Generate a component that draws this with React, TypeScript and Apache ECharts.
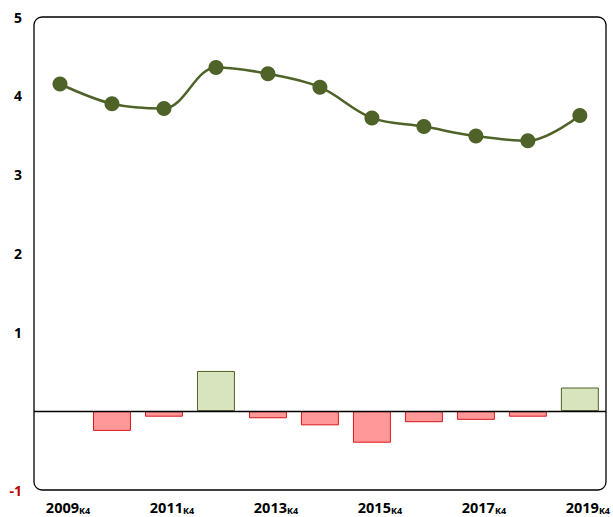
import React, { useEffect, useRef } from "react";
import * as echarts from "echarts";

const categories = ["2009", "2010", "2011", "2012", "2013", "2014", "2015", "2016", "2017", "2018", "2019"];
const lineValues = [4.15, 3.9, 3.84, 4.36, 4.28, 4.11, 3.72, 3.61, 3.49, 3.43, 3.75];
const barValues: (number | null)[] = [null, -0.25, -0.07, 0.51, -0.09, -0.18, -0.4, -0.14, -0.11, -0.07, 0.3];
const yTicks = [-1, 0, 1, 2, 3, 4, 5];

export default function App() {
  const ref = useRef<HTMLDivElement>(null);
  useEffect(() => {
    document.body.style.margin = "0";
    const chart = echarts.init(ref.current!, null, { renderer: "svg" });
    const W = 613, H = 517;
    const gl = 34, gr = 7, gt = 17, gb = 27;
    chart.setOption({
      animation: false,
      grid: { left: gl, right: gr, top: gt, bottom: gb },
      graphic: [
        {
          type: "rect",
          shape: { x: gl, y: gt, width: W - gl - gr, height: H - gt - gb, r: 8 },
          style: { fill: "none", stroke: "#000", lineWidth: 1.3 },
          z: 10,
        },
      ],
      xAxis: {
        type: "category",
        data: categories,
        axisLine: { show: false },
        axisTick: { show: false },
        axisLabel: {
          interval: 1,
          margin: 9,
          formatter: (v: string) => `{a|${v}}{b|K4}`,
          rich: {
            a: { fontFamily: "Open Sans", fontWeight: "bold", fontSize: 14.5, color: "#000" },
            b: { fontFamily: "Open Sans", fontWeight: "bold", fontSize: 9, color: "#000", padding: [7, 0, 0, 0] },
          },
          padding: [0, 0, 0, 16],
        },
      },
      yAxis: {
        type: "value",
        min: yTicks[0],
        max: yTicks[yTicks.length - 1],
        interval: 1,
        axisLine: { show: false },
        axisTick: { show: false },
        splitLine: { show: false },
        axisLabel: {
          margin: 12,
          fontFamily: "Open Sans",
          fontWeight: "bold",
          fontSize: 14,
          formatter: (v: number) => (v === 0 ? "" : String(v)),
          color: (v: any) => (Number(v) < 0 ? "#C00000" : "#000"),
        },
      },
      series: [
        {
          type: "bar",
          data: barValues.map((v) =>
            v === null
              ? null
              : {
                  value: v,
                  itemStyle:
                    v < 0
                      ? { color: "#FF9999", borderColor: "#D9151B", borderWidth: 1 }
                      : { color: "#D7E4BD", borderColor: "#4F6228", borderWidth: 1 },
                }
          ),
          barCategoryGap: "27%",
          markLine: {
            silent: true,
            symbol: "none",
            label: { show: false },
            lineStyle: { color: "#000", width: 1.3, type: "solid" },
            data: [{ yAxis: 0 }],
          },
        },
        {
          type: "line",
          data: lineValues,
          smooth: 0.35,
          symbol: "circle",
          symbolSize: 15,
          itemStyle: { color: "#4F6228" },
          lineStyle: { color: "#4F6228", width: 2.5 },
        },
      ],
    });
    return () => chart.dispose();
  }, []);
  return <div ref={ref} style={{ width: 613, height: 517 }} />;
}
